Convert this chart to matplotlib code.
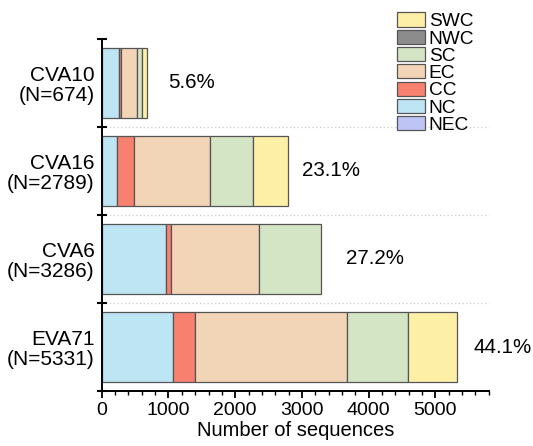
import numpy as np
import matplotlib
matplotlib.use("Agg")
import matplotlib.pyplot as plt
from matplotlib.patches import Patch

plt.rcParams['font.family'] = ['Liberation Sans', 'DejaVu Sans']

# data
viruses = ["CVA10", "CVA16", "CVA6", "EVA71"]
totals = [674, 2789, 3286, 5331]
regions = ["NEC", "NC", "CC", "EC", "SC", "NWC", "SWC"]
NEC = [0, 0, 0, 0]
NC = [255, 234, 960, 1075]
CC = [40, 255, 75, 325]
EC = [240, 1131, 1328, 2275]
SC = [70, 654, 923, 915]
NWC = [0, 0, 0, 0]
SWC = [69, 515, 0, 741]
region_colors = ["#bfc4f7", "#bde5f4", "#f8806f", "#f2d5b6", "#d3e5c4", "#8c8c8c", "#fdf0a6"]
label_offsets = [320, 210, 380, 240]

series = [NEC, NC, CC, EC, SC, NWC, SWC]

fig = plt.figure(figsize=(5.33, 4.46), dpi=100)
ax = fig.add_axes([0.191, 0.1233, 0.7257, 0.7893])

y = np.arange(len(viruses))
left = np.zeros(len(viruses))
for name, vals, col in zip(regions, series, region_colors):
    bars = ax.barh(y, vals, left=left, height=0.8, color=col,
                   edgecolor="#555555", linewidth=0.9)
    for b, v in zip(bars, vals):
        if v == 0:
            b.set_visible(False)
    left += np.array(vals)

grand = sum(totals)
for i, t in enumerate(totals):
    ax.text(t + label_offsets[i], y[i], f"{t / grand * 100:.1f}%",
            va="center", ha="left", fontsize=14.8)

# separators
for s in [0.5, 1.5, 2.5]:
    ax.axhline(s, color="#cccccc", linestyle=(0, (1, 2)), linewidth=0.9, zorder=0)

ax.set_ylim(3.5, -0.5)
ax.set_xlim(0, 5800)
ax.set_yticks(y)
ax.set_yticklabels([f"{v}\n(N={t})" for v, t in zip(viruses, totals)],
                   fontsize=15, linespacing=1.08)
ax.set_yticks([-0.5, 0.5, 1.5, 2.5, 3.5], minor=True)
ax.tick_params(axis="y", which="major", length=0, pad=5)
ax.tick_params(axis="y", which="minor", direction="inout", length=7, width=1.5)

ax.set_xticks([0, 1000, 2000, 3000, 4000, 5000])
ax.set_xticks(np.arange(0, 5801, 200), minor=True)
ax.tick_params(axis="x", which="major", direction="out", length=5, width=1.3,
               labelsize=14, pad=3)
ax.tick_params(axis="x", which="minor", direction="out", length=3, width=1.0)
ax.set_xlabel("Number of sequences", fontsize=14.5, labelpad=1)

ax.spines["top"].set_visible(False)
ax.spines["right"].set_visible(False)
ax.spines["left"].set_linewidth(1.4)
ax.spines["bottom"].set_linewidth(1.4)

handles = [Patch(facecolor=c, edgecolor="#555555", linewidth=0.9, label=n)
           for n, c in zip(regions, region_colors)][::-1]
fig.legend(handles=handles, loc="upper left", bbox_to_anchor=(0.745, 0.972),
           frameon=False, fontsize=13.8, handlelength=1.45, handleheight=0.75,
           handletextpad=0.2, labelspacing=-0.02, borderpad=0, borderaxespad=0)

fig.savefig("out.png", dpi=100)
